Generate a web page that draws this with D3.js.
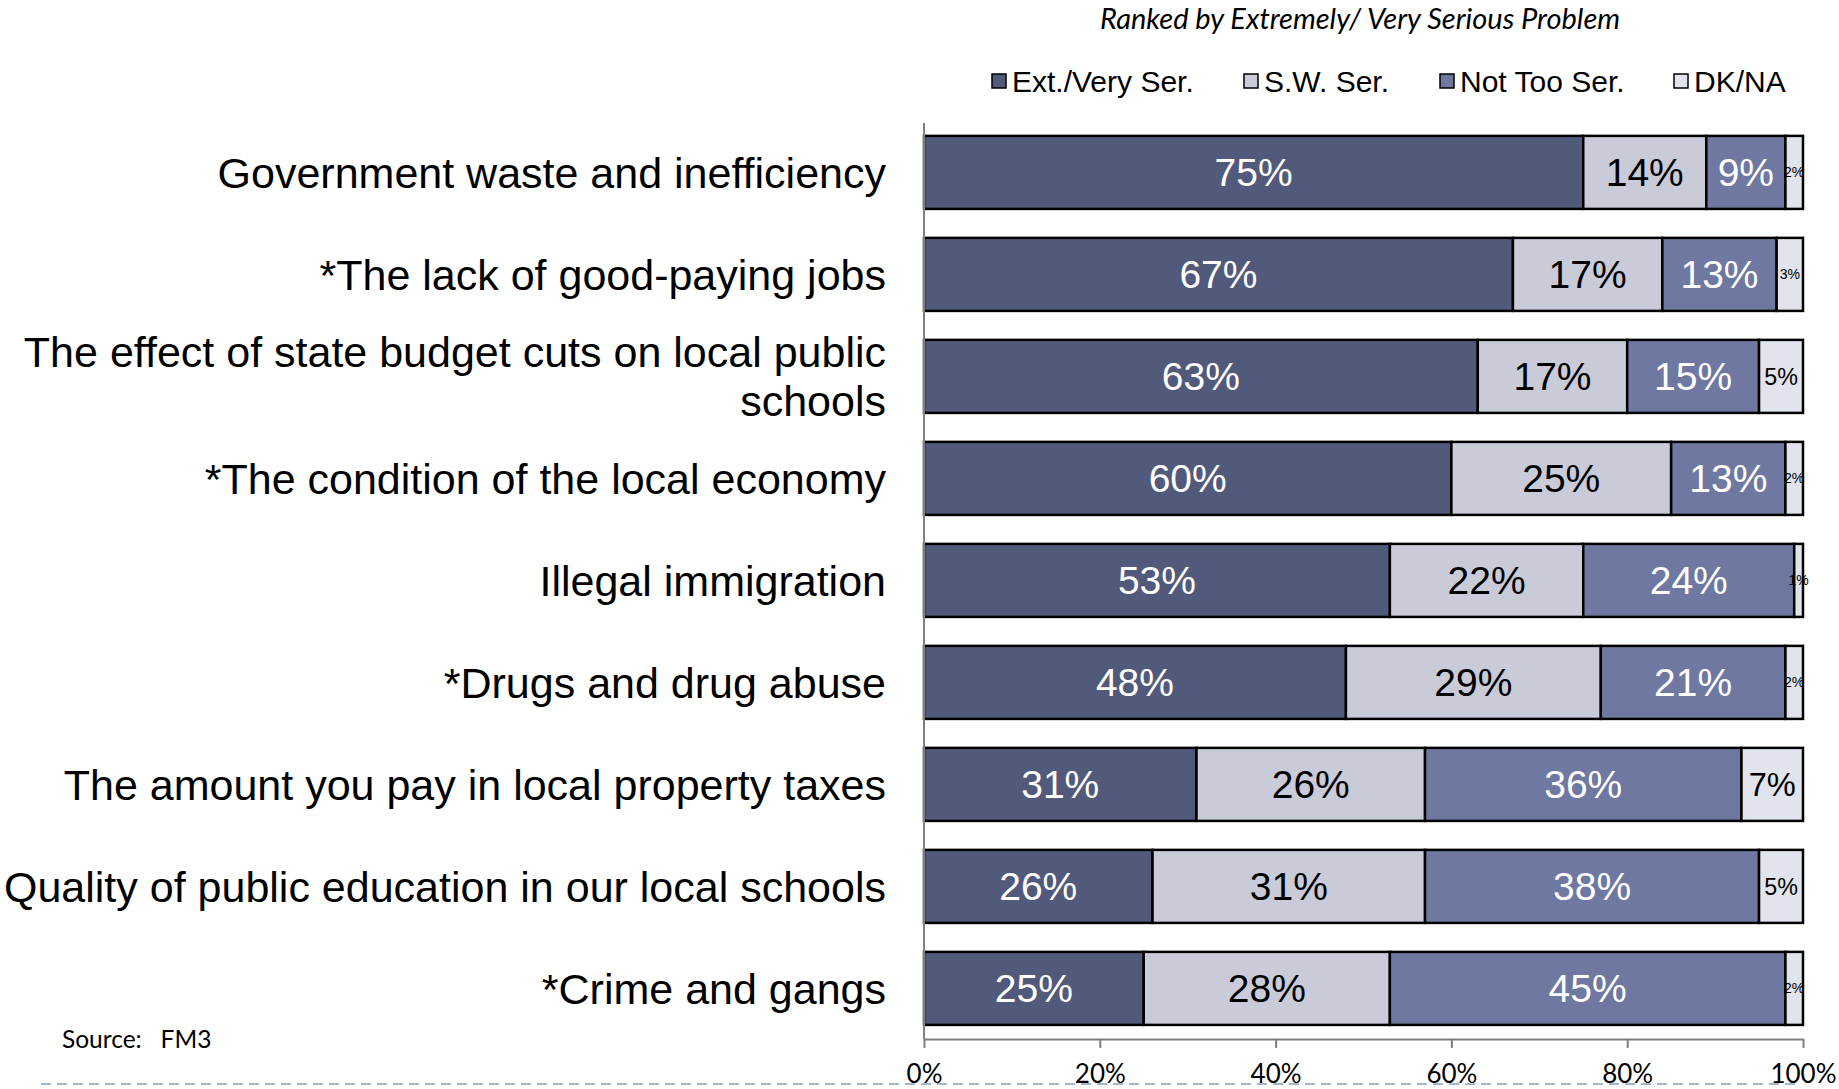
<!DOCTYPE html>
<html>
<head>
<meta charset="utf-8">
<script src="https://cdn.jsdelivr.net/npm/d3@7"></script>
<style>
  html, body { margin: 0; padding: 0; background: #fff; }
  svg { display: block; }
</style>
</head>
<body>
<svg id="chart" width="1839" height="1089"></svg>
<script>
// Survey: how serious is each problem (percent of respondents)
const categories = [
  "Government waste and inefficiency",
  "*The lack of good-paying jobs",
  "The effect of state budget cuts on local public\nschools",
  "*The condition of the local economy",
  "Illegal immigration",
  "*Drugs and drug abuse",
  "The amount you pay in local property taxes",
  "Quality of public education in our local schools",
  "*Crime and gangs"
];
const seriesNames = ["Ext./Very Ser.", "S.W. Ser.", "Not Too Ser.", "DK/NA"];
const extVerySer = [75, 67, 63, 60, 53, 48, 31, 26, 25];
const swSer      = [14, 17, 17, 25, 22, 29, 26, 31, 28];
const notTooSer  = [9, 13, 15, 13, 24, 21, 36, 38, 45];
const dkNa       = [2, 3, 5, 2, 1, 2, 7, 5, 2];
const tickValues = [0, 20, 40, 60, 80, 100];
const titleText = "Ranked by Extremely/ Very Serious Problem";
const sourceText = "Source:   FM3";

const seriesKeys = ["ext", "sw", "not", "dk"];
const fills = { ext: "#525a7c", sw: "#c9cbd9", not: "#6e78a0", dk: "#e1e4ec" };
const textFill = { ext: "#ffffff", sw: "#000000", not: "#ffffff", dk: "#000000" };

const rows = categories.map((c, i) => ({
  category: c, ext: extVerySer[i], sw: swSer[i], not: notTooSer[i], dk: dkNa[i]
}));

const svg = d3.select("#chart");

const x = d3.scaleLinear().domain([0, 100]).range([924, 1803]);
const y = d3.scaleBand()
  .domain(categories)
  .range([121.4, 1039.4])
  .paddingInner(0.284)
  .paddingOuter(0.142);

const stacked = d3.stack().keys(seriesKeys)(rows);

// dashed footer rule
svg.append("line")
  .attr("x1", 41).attr("x2", 1800)
  .attr("y1", 1084).attr("y2", 1084)
  .attr("stroke", "#a3b6ca")
  .attr("stroke-width", 2)
  .attr("stroke-dasharray", "10 6");

// bars
const layer = svg.append("g").selectAll("g")
  .data(stacked).join("g")
  .attr("fill", d => fills[d.key]);

layer.selectAll("rect")
  .data(d => d.map(p => ({ key: d.key, p })))
  .join("rect")
  .attr("x", d => x(d.p[0]))
  .attr("y", d => y(d.p.data.category))
  .attr("width", d => x(d.p[1]) - x(d.p[0]))
  .attr("height", y.bandwidth())
  .attr("stroke", "#000")
  .attr("stroke-width", 2.5);

// value labels inside each segment
const labelSize = w => Math.max(14, Math.min(39, w * 0.53));
layer.selectAll("text")
  .data(d => d.map(p => ({ key: d.key, p })))
  .join("text")
  .attr("x", d => (x(d.p[0]) + x(d.p[1])) / 2)
  .attr("y", d => y(d.p.data.category) + y.bandwidth() / 2)
  .attr("text-anchor", "middle")
  .attr("dy", "0.36em")
  .attr("font-family", "'Liberation Sans', Arial, sans-serif")
  .attr("font-size", d => labelSize(x(d.p[1]) - x(d.p[0])))
  .attr("fill", d => textFill[d.key])
  .text(d => `${d.p.data[d.key]}%`);

// left vertical axis line
svg.append("line")
  .attr("x1", 924).attr("x2", 924)
  .attr("y1", 123).attr("y2", 1039)
  .attr("stroke", "#7f7f7f").attr("stroke-width", 2);

// bottom axis
const xAxis = d3.axisBottom(d3.scaleLinear().domain([0, 1]).range([924, 1803]))
  .tickValues(tickValues.map(v => v / 100))
  .tickFormat(d3.format(".0%"))
  .tickSizeOuter(0)
  .tickSizeInner(9)
  .tickPadding(17);

const gx = svg.append("g").attr("transform", "translate(0,1039)").call(xAxis);
gx.select(".domain").attr("stroke", "#7f7f7f").attr("stroke-width", 2);
gx.selectAll(".tick line").attr("stroke", "#7f7f7f").attr("stroke-width", 2);
gx.selectAll(".tick text")
  .attr("font-family", "Lato, 'Open Sans', sans-serif")
  .attr("font-size", 26)
  .attr("fill", "#000");

// category labels
const catG = svg.append("g");
categories.forEach(c => {
  const lines = c.split("\n");
  const cy = y(c) + y.bandwidth() / 2;
  const lh = 49;
  const t = catG.append("text")
    .attr("text-anchor", "end")
    .attr("font-family", "'Liberation Sans', Arial, sans-serif")
    .attr("font-size", 43)
    .attr("fill", "#000");
  lines.forEach((ln, k) => {
    t.append("tspan")
      .attr("x", 886)
      .attr("y", cy + (k - (lines.length - 1) / 2) * lh)
      .attr("dy", "0.36em")
      .text(ln);
  });
});

// title
svg.append("text")
  .attr("x", 1360).attr("y", 29)
  .attr("text-anchor", "middle")
  .attr("font-family", "Lato, 'Open Sans', sans-serif")
  .attr("font-style", "italic")
  .attr("font-size", 29)
  .attr("fill", "#000")
  .text(titleText);

// legend
const legendX = [992, 1244, 1440, 1674];
const legend = svg.append("g").selectAll("g")
  .data(seriesKeys).join("g")
  .attr("transform", (d, i) => `translate(${legendX[i]},81)`);
legend.append("rect")
  .attr("x", 0).attr("y", -7)
  .attr("width", 14).attr("height", 14)
  .attr("fill", d => fills[d])
  .attr("stroke", "#000").attr("stroke-width", 1.5);
legend.append("text")
  .attr("x", 20).attr("y", 0).attr("dy", "0.36em")
  .attr("font-family", "'Liberation Sans Narrow', 'Liberation Sans', Arial, sans-serif")
  .attr("font-size", 30)
  .attr("fill", "#000")
  .text((d, i) => seriesNames[i]);

// source note
svg.append("text")
  .attr("x", 62).attr("y", 1048)
  .attr("font-family", "Lato, 'Open Sans', sans-serif")
  .attr("font-size", 24.5)
  .attr("fill", "#000")
  .attr("xml:space", "preserve")
  .style("white-space", "pre")
  .text(sourceText);
</script>
</body>
</html>
